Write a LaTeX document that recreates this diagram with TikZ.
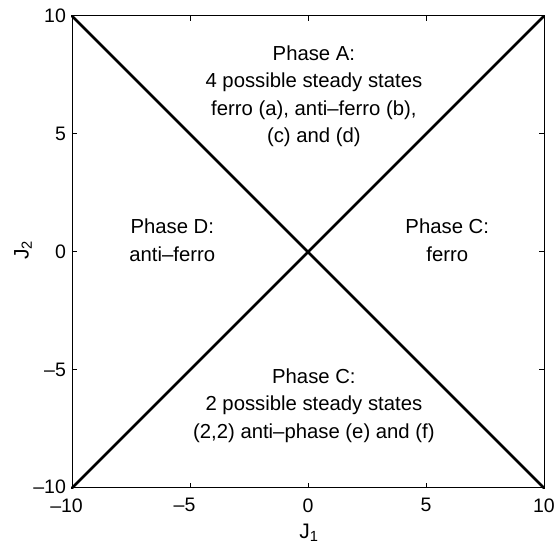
\documentclass[tikz,border=0pt]{standalone}
\usepackage{fontspec}
\setmainfont{Liberation Sans}
\begin{document}
\begin{tikzpicture}[x=1pt,y=1pt,
  lbl/.style={font=\fontsize{20.3}{27.5}\selectfont, align=center, inner sep=0pt},
  tick/.style={font=\fontsize{19.5}{22}\selectfont, inner sep=0pt},
  axlabel/.style={font=\fontsize{21}{24}\selectfont, inner sep=0pt},
  phaseline/.style={line width=2.6pt, line cap=round},
  frame/.style={line width=1pt}]
\useasboundingbox (0,0) rectangle (558,553);
\begin{scope}[shift={(308,301)}, x=23.6pt, y=23.6pt]
  \coordinate (ll) at (-10,-10);
  \coordinate (lr) at (10,-10);
  \coordinate (ul) at (-10,10);
  \coordinate (ur) at (10,10);
  \draw[frame] (ll) rectangle (ur);
  \foreach \v in {-10,-5,0,5,10}{
    \draw[frame] (\v,-10) -- ++(0,4.7pt);
    \draw[frame] (\v,10) -- ++(0,-4.7pt);
    \draw[frame] (-10,\v) -- ++(4.7pt,0);
    \draw[frame] (10,\v) -- ++(-4.7pt,0);
  }
  \node[tick, anchor=north] (x1) at (-10,-10.44) {\llap{–}10};
  \node[tick, anchor=north] (x2) at (-5,-10.44) {\llap{–}5};
  \node[tick, anchor=north] (x3) at (0,-10.44) {0};
  \node[tick, anchor=north] (x4) at (5,-10.44) {5};
  \node[tick, anchor=north] (x5) at (10,-10.44) {10};
  \node[tick, anchor=east] (y1) at (-10.25,-9.95) {–10};
  \node[tick, anchor=east] (y2) at (-10.25,-5) {–5};
  \node[tick, anchor=east] (y3) at (-10.25,0) {0};
  \node[tick, anchor=east] (y4) at (-10.25,5) {5};
  \node[tick, anchor=east] (y5) at (-10.25,10) {10};
  \draw[phaseline] (ul) -- (lr);
  \draw[phaseline] (ll) -- (ur);
  \node[lbl] (pA) at (0.25,6.6) {Phase A:\\4 possible steady states\\ferro (a), anti–ferro (b),\\(c) and (d)};
  \node[lbl] (pD) at (-5.75,0.5) {Phase D:\\anti–ferro};
  \node[lbl] (pC1) at (5.9,0.5) {Phase C:\\ferro};
  \node[lbl] (pC2) at (0.25,-6.5) {Phase C:\\2 possible steady states\\(2,2) anti–phase (e) and (f)};
\end{scope}
\node[axlabel, rotate=90] (j2) at (23,303) {J\textsubscript{2}};
\node[axlabel] (j1) at (309,20) {J\textsubscript{1}};
\end{tikzpicture}
\end{document}
